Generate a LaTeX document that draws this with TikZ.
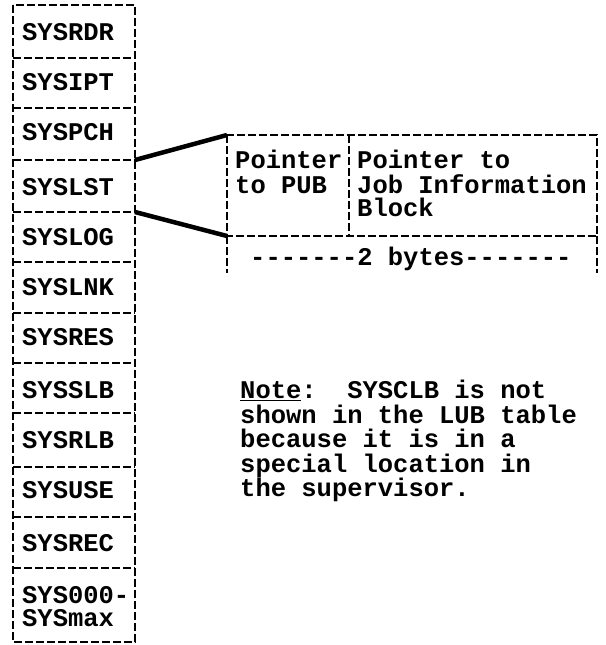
\documentclass[tikz,border=0pt]{standalone}
\usepackage{fontspec}
\setmonofont{Liberation Mono}
\begin{document}
\begin{tikzpicture}[x=1pt,y=-1pt,
  dl/.style={line width=2.8pt, dash pattern=on 8pt off 3pt},
  conn/.style={line width=4.5pt},
  tx/.style={anchor=base west, inner sep=0pt, font=\fontsize{25.5}{24.5}\selectfont\ttfamily\bfseries}]
\useasboundingbox (0,0) rectangle (605,645);
% left table
\coordinate (LTL) at (13,5);
\coordinate (LBR) at (135,642);
\draw[dl] (LTL) rectangle (LBR);
\foreach \y in {58,108,160,212,262,313,363,413,467,517,568}
  \draw[dl] (13,\y) -- (135,\y);
\coordinate (S3) at (135,160);
\coordinate (S4) at (135,212);
\foreach \t/\y [count=\i] in {SYSRDR/32, SYSIPT/82, SYSPCH/132, SYSLST/187, SYSLOG/237, SYSLNK/287, SYSRES/337, SYSSLB/390, SYSRLB/440, SYSUSE/490, SYSREC/543, SYS000-/595, SYSmax/618}
  \node[tx] (l\i) at (22,\y+8) {\t};
% right entry
\coordinate (RTL) at (227,135);
\coordinate (RBR) at (597,236);
\coordinate (RBL) at (227,236);
\coordinate (DT) at (349,135);
\coordinate (DB) at (349,236);
\draw[dl] (RTL) rectangle (RBR);
\draw[dl] (DT) -- (DB);
\draw[dl] (RBL) -- ++(0,37);
\draw[dl] (RBR) -- ++(0,37);
\node[tx] (p1) at (235,168) {Pointer};
\node[tx] (p2) at (235,193) {to PUB};
\node[tx] (j1) at (357,168) {Pointer to};
\node[tx] (j2) at (357,193) {Job Information};
\node[tx] (j3) at (357,216) {Block};
\node[tx] (by) at (250,265) {-------2 bytes-------};
% connectors
\draw[conn] (S3) -- (RTL);
\draw[conn] (S4) -- (RBL);
% note
\node[tx, align=left, anchor=north west] (note) at (240,380) {\underline{Note}:\ \ SYSCLB is not\\shown in the LUB table\\because it is in a\\special location in\\the supervisor.};
\end{tikzpicture}
\end{document}
